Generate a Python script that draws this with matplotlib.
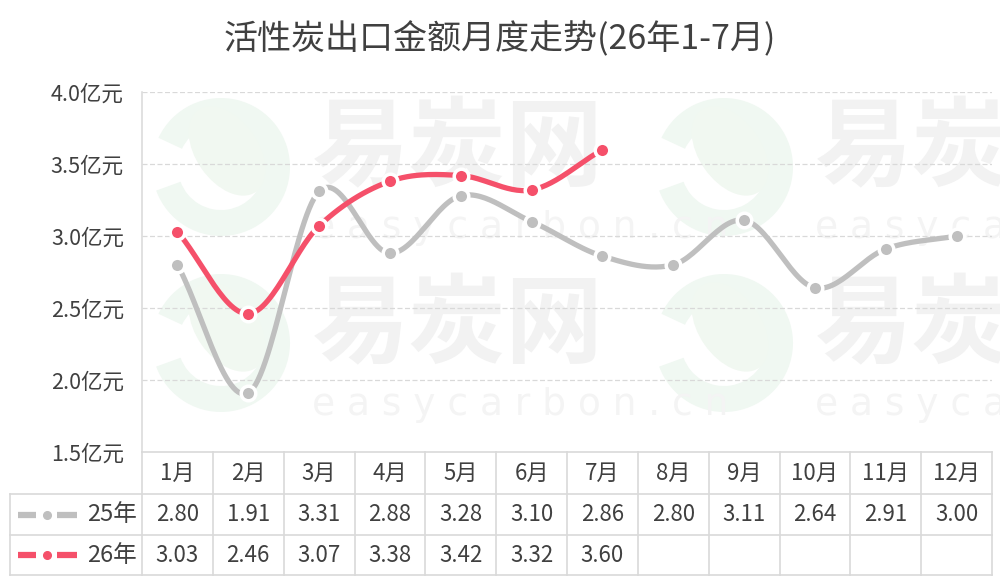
import numpy as np
import matplotlib
matplotlib.use("Agg")
import matplotlib.pyplot as plt
from matplotlib.patches import Wedge, Ellipse

plt.rcParams["font.family"] = ["Noto Sans CJK SC", "DejaVu Sans"]

months = ["1月", "2月", "3月", "4月", "5月", "6月", "7月", "8月", "9月", "10月", "11月", "12月"]
y25 = [2.80, 1.91, 3.31, 2.88, 3.28, 3.10, 2.86, 2.80, 3.11, 2.64, 2.91, 3.00]
y26 = [3.03, 2.46, 3.07, 3.38, 3.42, 3.32, 3.60]
series = [("25年", y25, "#bfbfbf"), ("26年", y26, "#f5506a")]
yticks = [1.5, 2.0, 2.5, 3.0, 3.5, 4.0]
title = "活性炭出口金额月度走势(26年1-7月)"
txt = "#404040"
grid_c = "#d9d9d9"


def smooth(xs, ys, n=30):
    # catmull-rom curve through the points, like the spreadsheet "smoothed line"
    xs = np.asarray(xs, float)
    ys = np.asarray(ys, float)
    px = np.concatenate([[2 * xs[0] - xs[1]], xs, [2 * xs[-1] - xs[-2]]])
    py = np.concatenate([[2 * ys[0] - ys[1]], ys, [2 * ys[-1] - ys[-2]]])
    ox, oy = [], []
    t = np.linspace(0, 1, n)
    for i in range(1, len(px) - 2):
        for p, o in ((px, ox), (py, oy)):
            p0, p1, p2, p3 = p[i - 1], p[i], p[i + 1], p[i + 2]
            o.extend(0.5 * ((2 * p1) + (-p0 + p2) * t + (2 * p0 - 5 * p1 + 4 * p2 - p3) * t ** 2
                            + (-p0 + 3 * p1 - 3 * p2 + p3) * t ** 3))
    return ox, oy


W, H = 1000, 576
fig = plt.figure(figsize=(W / 100, H / 100), dpi=100)

# background layer in pixel coords (watermark)
bg = fig.add_axes([0, 0, 1, 1], zorder=0)
bg.set_xlim(0, W)
bg.set_ylim(H, 0)
bg.axis("off")
for cx, cy in [(221, 167), (221, 343), (724, 167), (724, 343)]:
    bg.add_patch(Wedge((cx, cy), 69, 205, 160, width=26, color="#f0f8f2", lw=0))
    bg.add_patch(Ellipse((cx + 6, cy - 16), 62, 100, angle=-35, color="#f1f8f1", lw=0))
for tx, ty in [(312, 150), (312, 327), (815, 150), (815, 327)]:
    bg.text(tx, ty, "易炭网", fontsize=70, color="#f2f2f2", va="center", ha="left",
            fontweight="bold")
    bg.text(tx, ty + 78, "e a s y c a r b o n . c n", fontsize=27, color="#f4f4f4",
            va="center", ha="left", family="DejaVu Sans")

ax = fig.add_axes([142 / W, (H - 452) / H, 850 / W, 360 / H], zorder=1)
ax.patch.set_alpha(0)
ax.set_xlim(0.5, 12.5)
ax.set_ylim(1.5, 4.0)
x = np.arange(1, 13)

for name, ys, c in series:
    xs = x[:len(ys)]
    sx, sy = smooth(xs, ys)
    ax.plot(sx, sy, color=c, lw=3.8, solid_capstyle="butt", zorder=3)
    ax.plot(xs, ys, "o", ms=10.5, color=c, mec="white", mew=2.5, zorder=4)

ax.set_yticks(yticks)
ax.set_yticklabels([f"{v:.1f}亿元" for v in yticks], fontsize=15.5, color=txt)
ax.tick_params(axis="y", length=0, pad=13)
ax.set_xticks([])
for v in yticks[1:]:
    ax.axhline(v, color=grid_c, lw=0.9, ls=(0, (4, 2)), zorder=1)
for s in ["top", "right", "bottom"]:
    ax.spines[s].set_visible(False)
ax.spines["left"].set_color(grid_c)
ax.spines["left"].set_linewidth(1.1)

# data table below the plot (x in data units, y in axes fraction)
tr = ax.get_xaxis_transform()
ph = 360.0
rows_px = [452, 494, 535, 575]
rows = [(452 - r) / ph for r in rows_px]
x_left = 0.5 + (10 - 142) / (850 / 12)
tl = dict(color=grid_c, lw=1.2, transform=tr, clip_on=False, zorder=2)
ax.plot([0.5, 12.5], [rows[0]] * 2, **tl)
for r in rows[1:]:
    ax.plot([x_left, 12.5], [r, r], **tl)
for b in np.arange(0.5, 13.0, 1.0):
    ax.plot([b, b], [rows[0], rows[3]], **tl)
ax.plot([x_left, x_left], [rows[1], rows[3]], **tl)

for i, m in enumerate(months):
    ax.text(x[i], (rows[0] + rows[1]) / 2, m, transform=tr, ha="center", va="center",
            fontsize=16, color=txt)
for k, (name, ys, c) in enumerate(series):
    yc = (rows[k + 1] + rows[k + 2]) / 2
    for i, v in enumerate(ys):
        ax.text(x[i], yc, f"{v:.2f}", transform=tr, ha="center", va="center",
                fontsize=16, color=txt)
    ax.text(0.5 + (137 - 142) / (850 / 12), yc, name, transform=tr, ha="right", va="center",
            fontsize=17, color=txt)
    # legend key in the row header
    ypx = (rows_px[k + 1] + rows_px[k + 2]) / 2
    bg.plot([18, 36], [ypx, ypx], color=c, lw=4.5, solid_capstyle="butt", zorder=5)
    bg.plot([57, 77], [ypx, ypx], color=c, lw=4.5, solid_capstyle="butt", zorder=5)
    bg.plot([46.5], [ypx], "o", ms=5.5, color=c, zorder=5)

fig.text(0.5, 1 - 40 / H, title, ha="center", va="center", fontsize=24.5, color=txt)

fig.savefig("out.png", dpi=100)
